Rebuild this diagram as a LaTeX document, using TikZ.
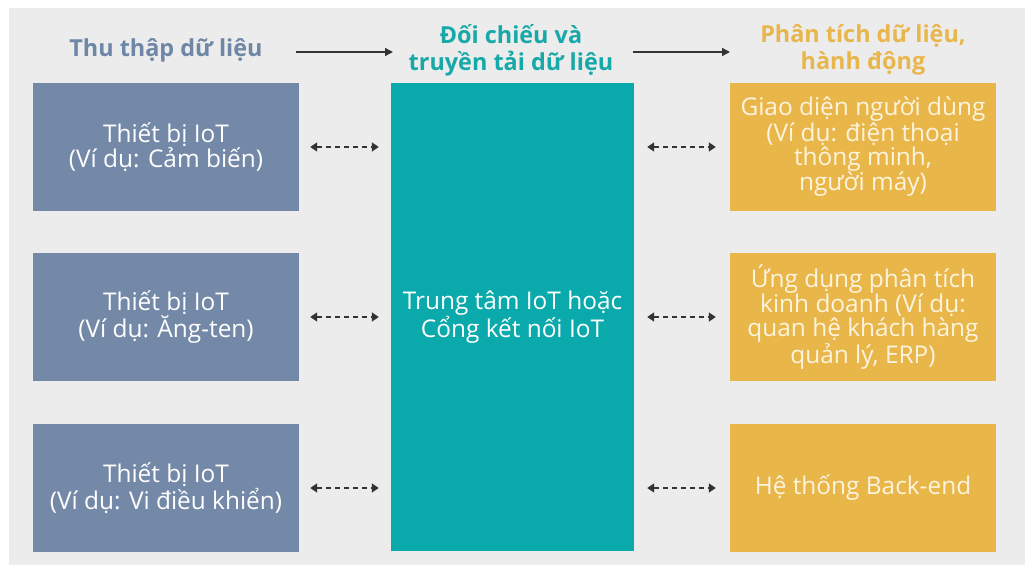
\documentclass[tikz,border=0pt]{standalone}
\usepackage{fontspec}
\setmainfont{Open Sans}
\usetikzlibrary{arrows.meta}
\definecolor{pagebg}{HTML}{ECECEC}
\definecolor{slate}{HTML}{7489A7}
\definecolor{hubteal}{HTML}{0AA9AB}
\definecolor{gold}{HTML}{E8B649}
\definecolor{slatetxt}{HTML}{6E87A7}
\definecolor{tealtxt}{HTML}{17A8A8}
\definecolor{goldtxt}{HTML}{E9B64C}
\definecolor{cream}{HTML}{FDF4DF}
\definecolor{arrowgray}{HTML}{333333}
\tikzset{
  box/.style={minimum width=266bp, minimum height=128bp, inner sep=0pt,
    align=center, text=white, font=\fontsize{24.5}{24}\selectfont},
  devbox/.style={box, fill=slate},
  appbox/.style={box, fill=gold, text=cream},
  hubbox/.style={box, fill=hubteal, minimum width=243bp, minimum height=468bp},
  header/.style={font=\fontsize{23.5}{27}\bfseries\selectfont, align=center},
  flow/.style={draw=arrowgray, line width=1.4bp, -{Triangle[length=8bp,width=8bp]}},
  link/.style={draw=arrowgray, line width=1.6bp, dash pattern=on 5bp off 4bp,
    {Triangle[length=7bp,width=9bp]}-{Triangle[length=7bp,width=9bp]}}
}
\begin{document}
\begin{tikzpicture}[x=1bp,y=-1bp]
  % page and panel background
  \fill[white] (0,0) rectangle (1025,567);
  \fill[pagebg] (9,8) rectangle (1025,565);
  \useasboundingbox (0,0) rectangle (1025,567);

  % column headers
  \node[header, text=slatetxt] (hcollect) at (166,50) {Thu thập dữ liệu};
  \node[header, text=tealtxt] (hrelay) at (511,50) {Đối chiếu và\\truyền tải dữ liệu};
  \node[header, text=goldtxt] (hact) at (863,50) {Phân tích dữ liệu,\\hành động};
  \coordinate (f1a) at (296,52);
  \coordinate (f1b) at (393,52);
  \coordinate (f2a) at (633,52);
  \coordinate (f2b) at (730,52);
  \draw[flow] (f1a) -- (f1b);
  \draw[flow] (f2a) -- (f2b);

  % devices
  \node[devbox] (d1) at (166,147) {Thiết bị IoT\\(Ví dụ: Cảm biến)};
  \node[devbox] (d2) at (166,317) {Thiết bị IoT\\(Ví dụ: Ăng-ten)};
  \node[devbox] (d3) at (166,488) {Thiết bị IoT\\(Ví dụ: Vi điều khiển)};

  % hub
  \node[hubbox] (hub) at (512.5,317) {Trung tâm IoT hoặc\\Cổng kết nối IoT};

  % applications
  \node[appbox] (r1) at (863,147) {Giao diện người dùng\\(Ví dụ: điện thoại\\thông minh,\\người máy)};
  \node[appbox] (r2) at (863,317) {Ứng dụng phân tích\\kinh doanh (Ví dụ:\\quan hệ khách hàng\\quản lý, ERP)};
  \node[appbox] (r3) at (863,488) {Hệ thống Back-end};

  % two-way links
  \foreach \n in {1,2,3}{
    \draw[link] ([xshift=11bp]d\n.east) -- ([xshift=-12bp]d\n.east -| hub.west);
    \draw[link] ([xshift=13bp]r\n.west -| hub.east) -- ([xshift=-14bp]r\n.west);
  }
\end{tikzpicture}
\end{document}
